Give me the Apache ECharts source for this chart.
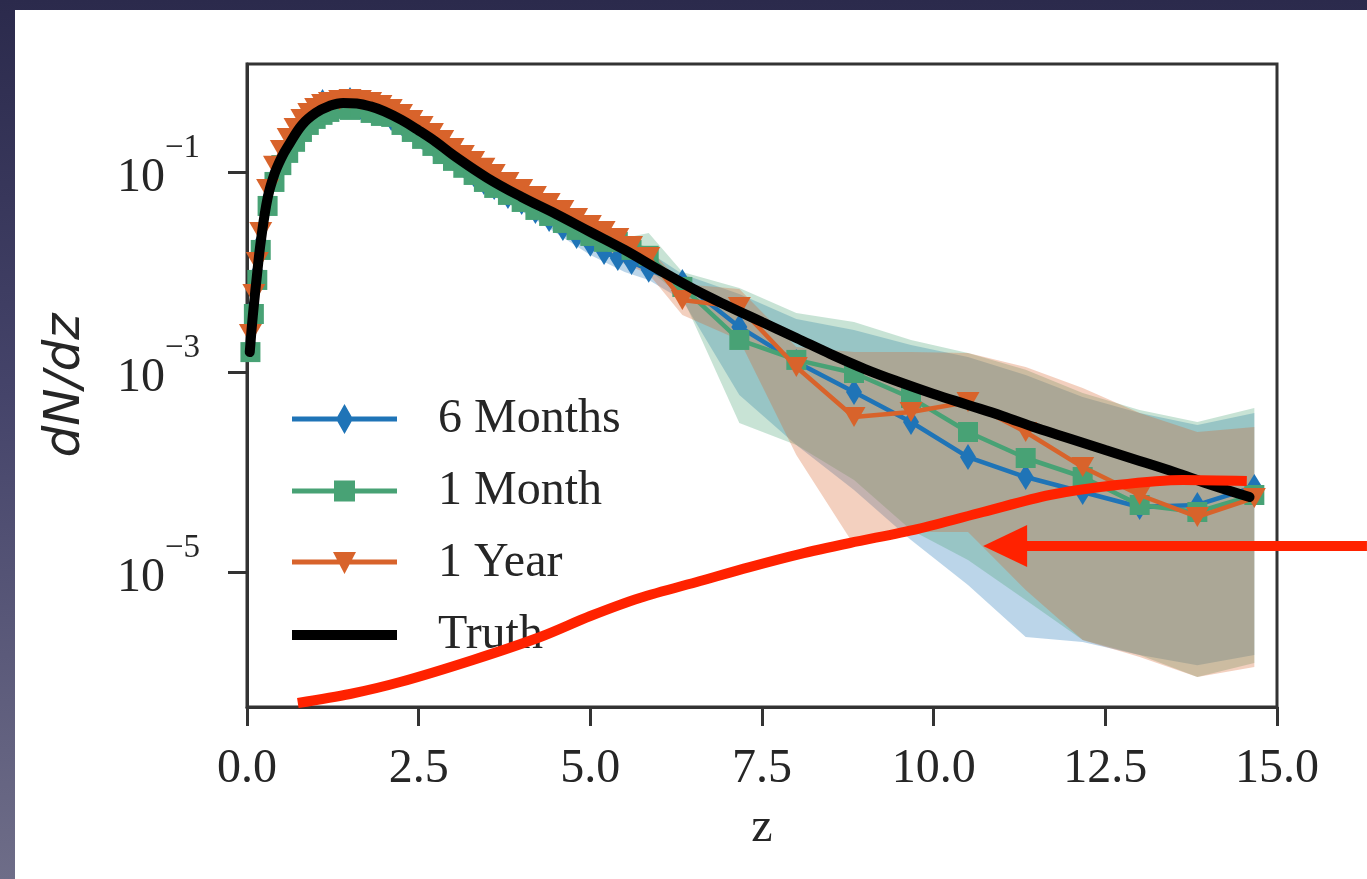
<!DOCTYPE html>
<html><head><meta charset="utf-8">
<script src="https://cdn.jsdelivr.net/npm/echarts@6.0.0/dist/echarts.min.js"></script>
<style>
html,body{margin:0;padding:0;width:1367px;height:879px;overflow:hidden;}
body{background:linear-gradient(to bottom,#2b2a4c 0%,#45446a 45%,#6e6d88 100%);}
#panel{position:absolute;left:15px;top:10px;width:1352px;height:869px;background:#fff;}
#chart{width:1352px;height:869px;}
</style></head><body><div id="panel"><div id="chart"></div></div>
<script>
// ---------------- data ----------------
const xTickLabels = ['0.0','2.5','5.0','7.5','10.0','12.5','15.0'];
const yTickValues = [1e-1, 1e-3, 1e-5];
const seriesNames = ['6 Months','1 Month','1 Year','Truth'];

const zMarkers = [0.05,0.1,0.15,0.2,0.3,0.4,0.5,0.6,0.7,0.8,0.9,1.0,1.1,1.2,1.35,1.5,1.65,1.8,1.95,2.1,2.25,2.4,2.55,2.7,2.85,3.0,3.15,3.3,3.45,3.6,3.8,4.0,4.2,4.4,4.6,4.8,5.0,5.2,5.4,5.6,5.85,6.34,7.17,8.0,8.84,9.67,10.5,11.34,12.17,13.0,13.84,14.67];

const sixMonths = [1.78e-3,4.37e-3,9.55e-3,1.91e-2,5.13e-2,8.91e-2,0.129,0.174,0.219,0.282,0.331,0.380,0.501,0.427,0.468,0.525,0.447,0.417,0.389,0.347,0.309,0.269,0.224,0.191,0.162,0.138,0.117,9.55e-2,7.94e-2,7.08e-2,5.75e-2,5.01e-2,4.07e-2,3.39e-2,2.75e-2,2.29e-2,1.91e-2,1.58e-2,1.38e-2,1.26e-2,1.05e-2,7.94e-3,2.82e-3,1.26e-3,6.31e-4,3.16e-4,1.41e-4,8.91e-5,6.31e-5,4.47e-5,4.68e-5,7.08e-5];

const oneMonth = [1.58e-3,3.80e-3,8.32e-3,1.66e-2,4.57e-2,7.94e-2,0.117,0.155,0.200,0.251,0.295,0.339,0.372,0.398,0.427,0.417,0.437,0.389,0.363,0.355,0.295,0.251,0.214,0.182,0.151,0.129,0.110,9.33e-2,7.94e-2,6.92e-2,5.89e-2,5.01e-2,4.17e-2,3.63e-2,3.09e-2,2.63e-2,2.29e-2,2.00e-2,2.00e-2,1.66e-2,1.45e-2,7.08e-3,2.09e-3,1.32e-3,9.77e-4,5.50e-4,2.51e-4,1.38e-4,8.91e-5,4.68e-5,3.98e-5,5.89e-5];

const oneYear = [2.40e-3,6.03e-3,1.26e-2,2.51e-2,6.76e-2,0.115,0.166,0.219,0.275,0.339,0.389,0.437,0.479,0.501,0.525,0.537,0.525,0.501,0.468,0.427,0.380,0.331,0.288,0.245,0.209,0.174,0.148,0.129,0.110,9.55e-2,7.94e-2,6.76e-2,5.75e-2,4.90e-2,4.17e-2,3.47e-2,2.95e-2,2.57e-2,2.19e-2,1.82e-2,1.41e-2,5.25e-3,4.47e-3,1.12e-3,3.55e-4,3.98e-4,5.01e-4,2.51e-4,1.12e-4,5.89e-5,3.55e-5,5.50e-5];

const zTruth = [0.04,0.07,0.1,0.15,0.2,0.3,0.4,0.5,0.6,0.8,1.0,1.2,1.4,1.6,1.8,2.0,2.25,2.5,2.75,3.0,3.5,4.0,4.5,5.0,5.5,6.0,6.5,7.0,7.5,8.0,8.5,9.0,9.5,10.0,10.5,11.0,11.5,12.0,12.5,13.0,13.5,14.0,14.6];
const truth = [1.58e-3,2.82e-3,4.68e-3,1.00e-2,2.00e-2,5.50e-2,9.55e-2,0.138,0.182,0.295,0.389,0.457,0.490,0.484,0.452,0.403,0.331,0.260,0.200,0.148,8.71e-2,5.62e-2,3.80e-2,2.51e-2,1.66e-2,1.05e-2,6.76e-3,4.57e-3,3.16e-3,2.19e-3,1.51e-3,1.07e-3,7.94e-4,6.03e-4,4.68e-4,3.63e-4,2.75e-4,2.14e-4,1.66e-4,1.29e-4,1.00e-4,7.59e-5,5.62e-5];

// uncertainty bands (upper / lower edges)
const zBand = [0.05,0.2,0.4,0.7,1.0,1.4,1.8,2.2,2.6,3.0,3.5,4.0,4.5,5.0,5.5,5.85,6.34,7.17,8.0,8.84,9.67,10.5,11.34,12.17,13.0,13.84,14.67];
const sixMonthsUpper = [2.19e-3,2.29e-2,0.105,0.257,0.437,0.550,0.479,0.372,0.245,0.162,9.33e-2,6.17e-2,3.98e-2,2.51e-2,1.82e-2,1.58e-2,9.55e-3,6.03e-3,3.39e-3,2.63e-3,1.86e-3,1.41e-3,9.33e-4,5.62e-4,3.89e-4,2.95e-4,3.89e-4];
const sixMonthsLower = [1.38e-3,1.58e-2,7.59e-2,0.191,0.331,0.407,0.363,0.275,0.178,0.118,6.46e-2,4.07e-2,2.45e-2,1.48e-2,1.00e-2,8.32e-3,5.25e-3,5.89e-4,1.86e-4,6.61e-5,2.09e-5,7.41e-6,2.24e-6,2.00e-6,1.48e-6,1.17e-6,1.48e-6];
const oneMonthUpper = [1.91e-3,2.00e-2,9.33e-2,0.234,0.389,0.490,0.447,0.347,0.229,0.151,8.91e-2,5.89e-2,3.89e-2,2.75e-2,2.19e-2,2.45e-2,1.00e-2,6.92e-3,3.89e-3,3.16e-3,2.09e-3,1.55e-3,1.05e-3,6.17e-4,4.17e-4,3.16e-4,4.37e-4];
const oneMonthLower = [1.26e-3,1.38e-2,6.76e-2,0.170,0.295,0.363,0.339,0.257,0.166,0.110,6.17e-2,4.07e-2,2.57e-2,1.66e-2,1.26e-2,1.05e-2,5.62e-3,3.09e-4,1.86e-4,8.32e-5,2.63e-5,1.32e-5,5.25e-6,2.09e-6,1.48e-6,8.91e-7,1.23e-6];
const oneYearUpper = [2.82e-3,2.88e-2,0.129,0.309,0.490,0.589,0.550,0.427,0.288,0.195,0.112,7.59e-2,4.90e-2,3.31e-2,2.19e-2,1.74e-2,7.59e-3,6.76e-3,1.78e-3,1.58e-3,1.58e-3,1.55e-3,1.12e-3,6.92e-4,3.89e-4,2.51e-4,2.82e-4];
const oneYearLower = [1.91e-3,2.09e-2,9.77e-2,0.240,0.380,0.457,0.427,0.324,0.214,0.141,7.76e-2,5.01e-2,3.09e-2,2.00e-2,1.20e-2,9.55e-3,3.72e-3,2.09e-3,1.48e-4,1.86e-5,2.51e-5,2.51e-5,6.61e-6,2.09e-6,1.41e-6,8.91e-7,1.12e-6];

// red slide annotation (curve + arrow), in data coordinates
const zAnnotation = [0.74,1.50,2.23,3.29,4.27,5.00,5.72,6.60,7.32,8.05,8.78,9.76,10.72,11.69,12.67,13.63,14.56];
const annotation = [4.90e-7,6.03e-7,7.94e-7,1.32e-6,2.24e-6,3.63e-6,5.50e-6,8.13e-6,1.12e-5,1.51e-5,1.95e-5,2.69e-5,3.98e-5,5.89e-5,7.41e-5,8.32e-5,8.13e-5];
const arrowFrom = [16.31, 1.82e-5];
const arrowTo = [10.72, 1.82e-5];

// ---------------- chart ----------------
const C = {blue:'#1f74b7', green:'#48a275', orange:'#d8632b', text:'#262626', axis:'#333333', red:'#ff2200'};
const SERIF = '"Liberation Serif", "DejaVu Serif", serif';
const pairs = (zs, vs) => zs.map((z, i) => [z, vs[i]]);

function band(name, zs, up, lo, color) {
  return {
    type: 'custom', name: name, silent: true, z: 1, clip: true,
    data: zs.map((z, i) => [z, up[i], lo[i]]),
    encode: {x: 0, y: [1, 2]},
    renderItem: function (params, api) {
      if (params.dataIndex !== 0) return null;
      const pts = [];
      for (let i = 0; i < zs.length; i++) pts.push(api.coord([zs[i], up[i]]));
      for (let i = zs.length - 1; i >= 0; i--) pts.push(api.coord([zs[i], lo[i]]));
      return {type: 'polygon', shape: {points: pts}, style: {fill: color, opacity: 0.3}};
    }
  };
}

const bar = 'M0,12.5L105,12.5L105,17.5L0,17.5Z';
const legendIcons = {
  '6 Months': 'path://' + bar + ' M52.5,0L61,15L52.5,30L44,15Z',
  '1 Month': 'path://' + bar + ' M42,4.5L63,4.5L63,25.5L42,25.5Z',
  '1 Year': 'path://' + bar + ' M41,5L64,5L52.5,27Z',
  'Truth': 'path://M0,10L105,10L105,20L0,20Z'
};

const chart = echarts.init(document.getElementById('chart'), null, {renderer: 'canvas'});
chart.setOption({
  animation: false,
  backgroundColor: '#ffffff',
  grid: {left: 232, top: 54, width: 1030, height: 643, show: true, borderColor: C.axis, borderWidth: 3, backgroundColor: 'transparent'},
  xAxis: {
    type: 'value', min: 0, max: 15, interval: 2.5,
    axisLine: {show: true, lineStyle: {color: C.axis, width: 3}},
    axisTick: {show: true, inside: false, length: 19, lineStyle: {color: C.axis, width: 3}},
    splitLine: {show: false},
    axisLabel: {margin: 38, color: C.text, fontFamily: SERIF, fontSize: 48,
      formatter: v => xTickLabels[Math.round(v / 2.5)]},
    name: 'z', nameLocation: 'middle', nameGap: 97,
    nameTextStyle: {color: C.text, fontFamily: SERIF, fontSize: 48}
  },
  yAxis: {
    type: 'log', logBase: 10, min: 4.47e-7, max: 1.2,
    axisLine: {show: true, lineStyle: {color: C.axis, width: 3}},
    axisTick: {show: true, inside: false, length: 19, lineStyle: {color: C.axis, width: 3}, customValues: yTickValues},
    splitLine: {show: false}, minorTick: {show: false},
    axisLabel: {
      customValues: yTickValues, margin: 47, padding: [0, 0, 10, 0],
      formatter: v => '{b|10}{s|\u2212' + (-Math.round(Math.log10(v))) + '}',
      rich: {
        b: {fontFamily: SERIF, fontSize: 48, color: C.text, lineHeight: 70, verticalAlign: 'bottom'},
        s: {fontFamily: SERIF, fontSize: 33, color: C.text, lineHeight: 28, verticalAlign: 'top'}
      }
    },
    name: 'dN/dz', nameLocation: 'middle', nameGap: 156, nameRotate: 90,
    nameTextStyle: {color: C.text, fontFamily: '"DejaVu Sans", sans-serif', fontStyle: 'italic', fontSize: 50}
  },
  legend: {
    orient: 'vertical', left: 277, top: 385, padding: 0,
    itemWidth: 105, itemHeight: 30, itemGap: 24, selectedMode: false, symbolRotate: 0,
    textStyle: {color: C.text, fontFamily: SERIF, fontSize: 48, lineHeight: 48, padding: [0, 0, 0, 36]},
    data: seriesNames.map(n => ({name: n, icon: legendIcons[n]}))
  },
  series: [
    band('6 Months band', zBand, sixMonthsUpper, sixMonthsLower, C.blue),
    band('1 Month band', zBand, oneMonthUpper, oneMonthLower, C.green),
    band('1 Year band', zBand, oneYearUpper, oneYearLower, C.orange),
    {name: '6 Months', type: 'line', z: 3, data: pairs(zMarkers, sixMonths),
      symbol: 'diamond', symbolSize: [16, 26], showSymbol: true,
      lineStyle: {color: C.blue, width: 4.5}, itemStyle: {color: C.blue}},
    {name: '1 Month', type: 'line', z: 4, data: pairs(zMarkers, oneMonth),
      symbol: 'rect', symbolSize: 20, showSymbol: true,
      lineStyle: {color: C.green, width: 4.5}, itemStyle: {color: C.green}},
    {name: '1 Year', type: 'line', z: 5, data: pairs(zMarkers, oneYear),
      symbol: 'triangle', symbolSize: [23, 20], symbolRotate: 180, showSymbol: true,
      lineStyle: {color: C.orange, width: 4.5}, itemStyle: {color: C.orange}},
    {name: 'Truth', type: 'line', z: 6, data: pairs(zTruth, truth), smooth: 0.4,
      symbol: 'none', showSymbol: false,
      lineStyle: {color: '#000000', width: 10, cap: 'round'}, itemStyle: {color: '#000000'}},
    {name: 'annotation', type: 'line', z: 10, data: pairs(zAnnotation, annotation),
      smooth: 0.3,
      symbol: 'none', showSymbol: false, clip: false, silent: true,
      lineStyle: {color: C.red, width: 10, cap: 'butt'}, itemStyle: {color: C.red}},
    {name: 'arrow', type: 'custom', z: 11, clip: false, silent: true,
      data: [[arrowFrom[0], arrowFrom[1]]], encode: {x: 0, y: 1},
      renderItem: function (params, api) {
        const a = api.coord(arrowFrom), b = api.coord(arrowTo);
        const head = 44, half = 21;
        const dx = b[0] - a[0], dy = b[1] - a[1], len = Math.hypot(dx, dy);
        const ux = dx / len, uy = dy / len;
        const base = [b[0] - ux * head, b[1] - uy * head];
        return {type: 'group', children: [
          {type: 'line', shape: {x1: a[0], y1: a[1], x2: base[0] + ux * 4, y2: base[1] + uy * 4},
            style: {stroke: C.red, lineWidth: 10}},
          {type: 'polygon', shape: {points: [b, [base[0] - uy * half, base[1] + ux * half], [base[0] + uy * half, base[1] - ux * half]]},
            style: {fill: C.red}}
        ]};
      }}
  ]
});
</script></body></html>
